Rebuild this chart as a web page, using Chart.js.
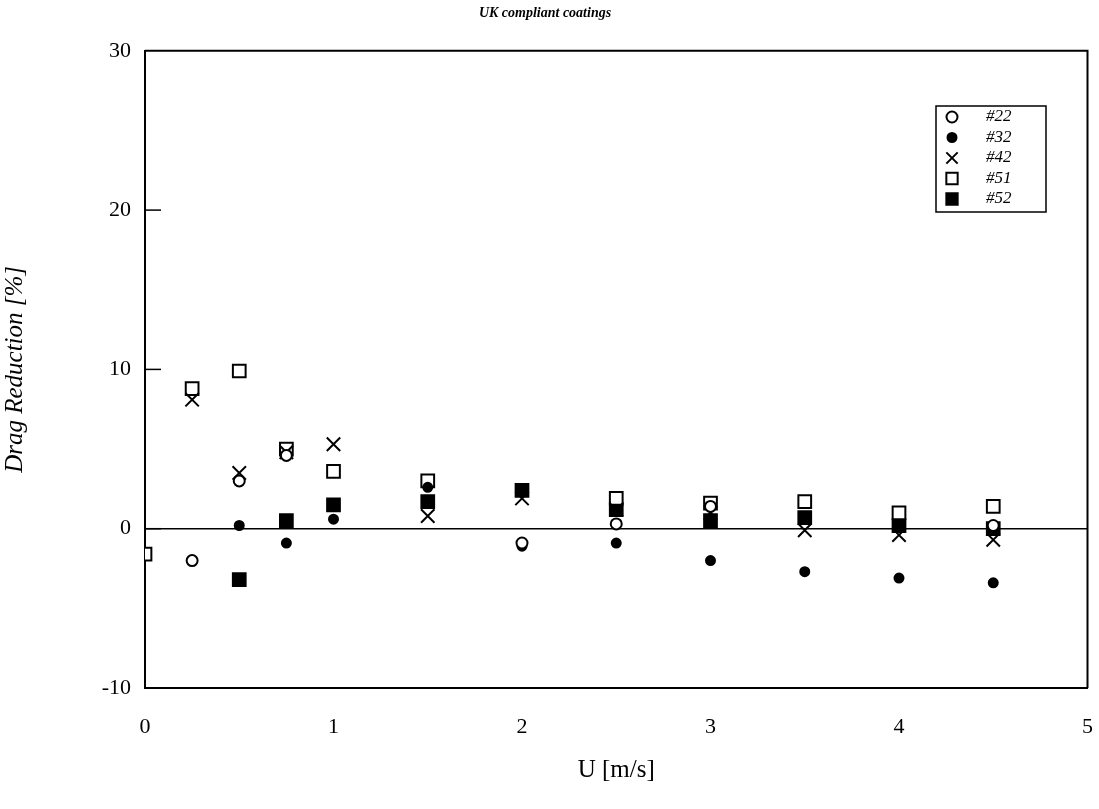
<!DOCTYPE html>
<html>
<head>
<meta charset="utf-8">
<script src="https://cdn.jsdelivr.net/npm/chart.js@4.4.1/dist/chart.umd.min.js"></script>
<style>
  html, body { margin: 0; padding: 0; background: #fff; }
  #wrap { width: 1099px; height: 809px; }
</style>
</head>
<body>
<div id="wrap"><canvas id="chart"></canvas></div>
<script>
const chartTitle = "UK compliant coatings";
const xTitle = "U [m/s]";
const yTitle = "Drag Reduction [%]";

const seriesNames = ["#22", "#32", "#42", "#51", "#52"];

const s22x = [0.25, 0.5, 0.75, 2, 2.5, 3, 4.5];
const s22y = [-2.0, 3.0, 4.6, -0.9, 0.3, 1.4, 0.2];

const s32x = [0.5, 0.75, 1, 1.5, 2, 2.5, 3, 3.5, 4, 4.5];
const s32y = [0.2, -0.9, 0.6, 2.6, -1.1, -0.9, -2.0, -2.7, -3.1, -3.4];

const s42x = [0.25, 0.5, 0.75, 1, 1.5, 2, 2.5, 3, 3.5, 4, 4.5];
const s42y = [8.1, 3.5, 4.8, 5.3, 0.8, 1.9, 1.2, 1.0, -0.1, -0.4, -0.7];

const s51x = [0, 0.25, 0.5, 0.75, 1, 1.5, 2.5, 3, 3.5, 4, 4.5];
const s51y = [-1.6, 8.8, 9.9, 5.0, 3.6, 3.0, 1.9, 1.6, 1.7, 1.0, 1.4];

const s52x = [0.5, 0.75, 1, 1.5, 2, 2.5, 3, 3.5, 4, 4.5];
const s52y = [-3.2, 0.5, 1.5, 1.7, 2.4, 1.2, 0.5, 0.7, 0.2, 0.0];

const xTicks = [0, 1, 2, 3, 4, 5];
const yTicks = [-10, 0, 10, 20, 30];

function pairs(xs, ys) {
    return xs.map((x, i) => ({ x: x, y: ys[i] }));
}

const serif = "'Liberation Serif', 'DejaVu Serif', serif";

const styles = [
    { pointStyle: "circle", radius: 5.5, fill: "#fff" },
    { pointStyle: "circle", radius: 4.5, fill: "#000" },
    { pointStyle: "crossRot", radius: 9.5, fill: "#000" },
    { pointStyle: "rect", radius: 9, fill: "#fff" },
    { pointStyle: "rect", radius: 9, fill: "#000" }
];

const allX = [s22x, s32x, s42x, s51x, s52x];
const allY = [s22y, s32y, s42y, s51y, s52y];

const datasets = seriesNames.map((name, i) => ({
    label: name,
    data: pairs(allX[i], allY[i]),
    showLine: false,
    pointStyle: styles[i].pointStyle,
    pointRadius: styles[i].radius,
    pointBackgroundColor: styles[i].fill,
    pointBorderColor: "#000",
    pointBorderWidth: 2
}));

// box, inner y ticks and legend
const framePlugin = {
    id: "frame",
    afterDraw(chart) {
        const ctx = chart.ctx;
        const a = chart.chartArea;
        ctx.save();
        ctx.strokeStyle = "#000";
        ctx.lineWidth = 2;
        ctx.beginPath();
        ctx.moveTo(a.left, a.top);
        ctx.lineTo(a.right, a.top);
        ctx.lineTo(a.right, a.bottom);
        ctx.stroke();

        const ys = chart.scales.y;
        ctx.lineWidth = 1.5;
        yTicks.forEach(v => {
            if (v === yTicks[0] || v === yTicks[yTicks.length - 1]) return;
            const py = ys.getPixelForValue(v);
            ctx.beginPath();
            ctx.moveTo(a.left, py);
            ctx.lineTo(a.left + 16, py);
            ctx.stroke();
        });

        // legend box
        const bx = 936, by = 106, bw = 110, bh = 106;
        ctx.lineWidth = 1.5;
        ctx.strokeRect(bx, by, bw, bh);
        ctx.font = "italic 17px " + serif;
        ctx.textBaseline = "middle";
        chart.data.datasets.forEach((ds, i) => {
            const py = by + 11 + i * 20.5;
            ctx.fillStyle = ds.pointBackgroundColor;
            ctx.strokeStyle = "#000";
            ctx.lineWidth = 2;
            Chart.helpers.drawPoint(ctx, {
                pointStyle: ds.pointStyle,
                radius: Math.min(ds.pointRadius, 8),
                rotation: 0,
                borderWidth: 2
            }, bx + 16, py);
            ctx.fillStyle = "#000";
            ctx.fillText(ds.label, bx + 50, py);
        });
        ctx.restore();
    }
};

new Chart(document.getElementById("chart"), {
    type: "scatter",
    data: { datasets: datasets },
    options: {
        responsive: true,
        maintainAspectRatio: false,
        animation: false,
        layout: { padding: { top: 0, right: 9, left: 0, bottom: 0 } },
        plugins: {
            legend: { display: false },
            tooltip: { enabled: false },
            title: {
                display: true,
                text: chartTitle,
                color: "#000",
                font: { family: serif, size: 14, style: "italic", weight: "bold" },
                padding: { top: 5, bottom: 29 }
            }
        },
        scales: {
            x: {
                type: "linear",
                min: 0,
                max: 5,
                afterBuildTicks(scale) {
                    scale.ticks = xTicks.map(v => ({ value: v }));
                },
                afterFit(scale) {
                    scale.height = 121;
                    scale.paddingLeft = 0;
                    scale.paddingRight = 0;
                },
                grid: { display: false },
                border: { display: true, color: "#000", width: 2 },
                ticks: {
                    color: "#000",
                    padding: 18,
                    font: { family: serif, size: 22 }
                },
                title: {
                    display: true,
                    text: xTitle,
                    color: "#000",
                    font: { family: serif, size: 25 },
                    padding: { top: 0, bottom: 24 }
                }
            },
            y: {
                type: "linear",
                min: -10,
                max: 30,
                afterBuildTicks(scale) {
                    scale.ticks = yTicks.map(v => ({ value: v }));
                },
                afterFit(scale) { scale.width = 145; },
                grid: {
                    drawTicks: false,
                    color: ctx => (ctx.tick && ctx.tick.value === 0) ? "#000" : "rgba(0,0,0,0)",
                    lineWidth: 1.5
                },
                border: { display: true, color: "#000", width: 2 },
                ticks: {
                    color: "#000",
                    padding: 14,
                    font: { family: serif, size: 22 }
                },
                title: {
                    display: true,
                    text: yTitle,
                    color: "#000",
                    font: { family: serif, size: 25, style: "italic" },
                    padding: { top: 0, bottom: 0 }
                }
            }
        }
    },
    plugins: [framePlugin]
});
</script>
</body>
</html>
